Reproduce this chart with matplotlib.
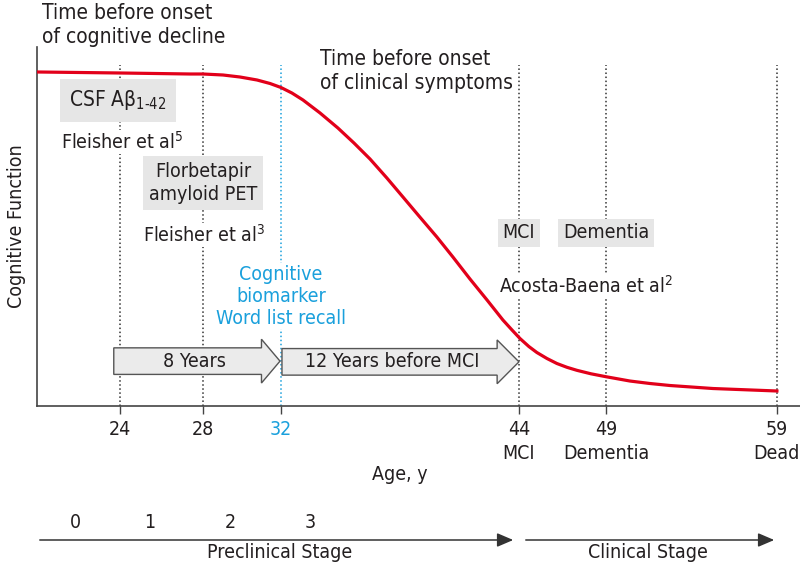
import numpy as np
import matplotlib
matplotlib.use('Agg')
import matplotlib.pyplot as plt
from matplotlib.patches import FancyArrow, FancyArrowPatch

plt.rcParams['font.family'] = ['DejaVu Sans']
plt.rcParams['font.stretch'] = 'condensed'
plt.rcParams['mathtext.fontset'] = 'custom'
plt.rcParams['mathtext.rm'] = 'DejaVu Sans:stretch=condensed'
plt.rcParams['mathtext.it'] = 'DejaVu Sans:stretch=condensed'

# curve (age, relative cognitive function)
age = [20, 24, 27.37, 28, 29.03, 29.9, 30.77, 31.44, 32, 32.55, 33.11, 33.97,
       34.87, 35.68, 36.49, 37.34, 38.15, 39.0, 39.86, 40.67, 41.53, 42.39,
       43.19, 43.65, 44.06, 44.57, 45.03, 45.61, 46.18, 46.76, 47.33, 48.14,
       49.0, 50.4, 51.57, 52.74, 55.26, 59]
cognition = [93.04, 92.76, 92.48, 92.48, 92.2, 91.64, 90.81, 89.83, 88.72,
             87.19, 85.24, 81.62, 77.44, 73.26, 68.8, 63.51, 58.22, 52.65,
             47.08, 41.5, 35.38, 29.53, 23.96, 21.17, 18.8, 16.57, 14.9,
             13.23, 11.84, 10.78, 9.94, 8.97, 8.16, 6.96, 6.27, 5.71, 4.87, 4.18]

milestone_ages = [24, 28, 44, 49, 59]
biomarker_age = 32
tick_ages = [24, 28, 32, 44, 49, 59]
tick_labels = ['24', '28', '32', '44\nMCI', '49\nDementia', '59\nDead']
stage_labels = ['0', '1', '2', '3']

# schematic (non linear) age axis, as in the figure
knot_age = [0, 20, 24, 28, 32, 44, 49, 59, 80]
knot_pos = [-378, 37, 120, 203, 281, 519, 606, 777, 1136]

def fwd(a):
    return np.interp(a, knot_age, knot_pos)

def inv(p):
    return np.interp(p, knot_pos, knot_age)

RED = '#e2001a'
BLUE = '#1aa0dc'
INK = '#231f20'
GRAY = '#e6e6e6'

fig = plt.figure(figsize=(8, 5.64), dpi=100)
ax = fig.add_axes([37 / 800, 158 / 564, 763 / 800, 359 / 564])
ax.set_xscale('function', functions=(fwd, inv))
ax.set_xlim(20, 60.35)
ax.set_ylim(0, 100)

for s in ['top', 'right']:
    ax.spines[s].set_visible(False)
for s in ['left', 'bottom']:
    ax.spines[s].set_color('#444444')
    ax.spines[s].set_linewidth(1.2)
ax.set_yticks([])
ax.set_xticks(tick_ages)
ax.set_xticklabels(tick_labels, fontsize=14, color=INK)
ax.xaxis.set_minor_locator(plt.NullLocator())
ax.tick_params(axis='x', length=6, width=1, color='#444444', pad=4)
for lab in ax.get_xticklabels():
    lab.set_linespacing(1.35)
    if lab.get_text() == str(biomarker_age):
        lab.set_color(BLUE)

ax.set_ylabel('Cognitive Function', fontsize=14, color=INK, labelpad=8)

# dotted verticals
ax.vlines(milestone_ages, 0, 95, colors='#333333', linestyles=':', lw=1.1, zorder=1)
ax.vlines([biomarker_age], 0, 95, colors=BLUE, linestyles=':', lw=1.1, zorder=1)

ax.plot(age, cognition, color=RED, lw=2.3, zorder=4, solid_joinstyle='round')

white = dict(facecolor='white', edgecolor='none', pad=1)
tag = dict(facecolor=GRAY, edgecolor='none', boxstyle='square,pad=0.25')

ax.text(20.25, 106, 'Time before onset\nof cognitive decline', fontsize=15,
        color=INK, ha='left', va='center', linespacing=1.25, clip_on=False)
ax.text(33.97, 93.3, 'Time before onset\nof clinical symptoms', fontsize=15,
        color=INK, ha='left', va='center', linespacing=1.25, zorder=3, bbox=white)

ax.text(23.9, 85.2, r'CSF A$\beta_{\mathrm{1\text{-}42}}$', fontsize=15, color=INK,
        ha='center', va='center', zorder=3,
        bbox=dict(facecolor=GRAY, edgecolor='none', boxstyle='square,pad=0.45'))
ax.text(21.16, 73.5, r'Fleisher et al$^{5}$', fontsize=14, color=INK,
        ha='left', va='center', zorder=3, bbox=white)
ax.text(28, 62.1, 'Florbetapir\namyloid PET', fontsize=14, color=INK,
        ha='center', va='center', linespacing=1.3, zorder=3,
        bbox=dict(facecolor=GRAY, edgecolor='none', boxstyle='square,pad=0.3'))
ax.text(25.1, 47.6, r'Fleisher et al$^{3}$', fontsize=14, color=INK,
        ha='left', va='center', zorder=3, bbox=white)
ax.text(32, 30.6, 'Cognitive\nbiomarker\nWord list recall', fontsize=14,
        color=BLUE, ha='center', va='center', linespacing=1.2, zorder=3,
        bbox=white)
ax.text(44, 48.2, 'MCI', fontsize=14, color=INK, ha='center', va='center',
        zorder=3, bbox=tag)
ax.text(49, 48.2, 'Dementia', fontsize=14, color=INK, ha='center', va='center',
        zorder=3, bbox=tag)
ax.text(43.0, 33.4, r'Acosta-Baena et al$^{2}$', fontsize=14, color=INK,
        ha='left', va='center', zorder=3, bbox=white)

# interval arrows
arrows = [(23.7, 31.95, 12.5, 31.0, '8 Years', 27.6),
          (32.05, 44.0, 12.3, 42.9, '12 Years before MCI', 37.6)]
for x0, x1, yc, xh, label, xt in arrows:
    ar = FancyArrow(x0, yc, x1 - x0, 0, width=7.4, head_width=12.2,
                    head_length=x1 - xh, length_includes_head=True,
                    facecolor='#ebebeb', edgecolor='#555555', lw=1.0, zorder=3)
    ax.add_patch(ar)
    ax.text(xt, yc, label, fontsize=14, color=INK, ha='center', va='center', zorder=4)

fig.text(400 / 800, 1 - 475 / 564, 'Age, y', fontsize=14, color=INK,
         ha='center', va='center')

# stage strip
y_arrow = 564 - 540
for xs, xe in [(37, 516), (523, 777)]:
    fig.add_artist(FancyArrowPatch(
        (xs, y_arrow), (xe, y_arrow), transform=None,
        arrowstyle='-|>,head_length=0.7,head_width=0.3', mutation_scale=14,
        color='#333333', lw=1.1))
for lab, xp in zip(stage_labels, [75, 150, 230, 310]):
    fig.text(xp / 800, 1 - 523 / 564, lab, fontsize=14, color=INK,
             ha='center', va='center')
fig.text(280 / 800, 1 - 553 / 564, 'Preclinical Stage', fontsize=14, color=INK,
         ha='center', va='center')
fig.text(648 / 800, 1 - 553 / 564, 'Clinical Stage', fontsize=14, color=INK,
         ha='center', va='center')

fig.savefig('out.png', dpi=100)
